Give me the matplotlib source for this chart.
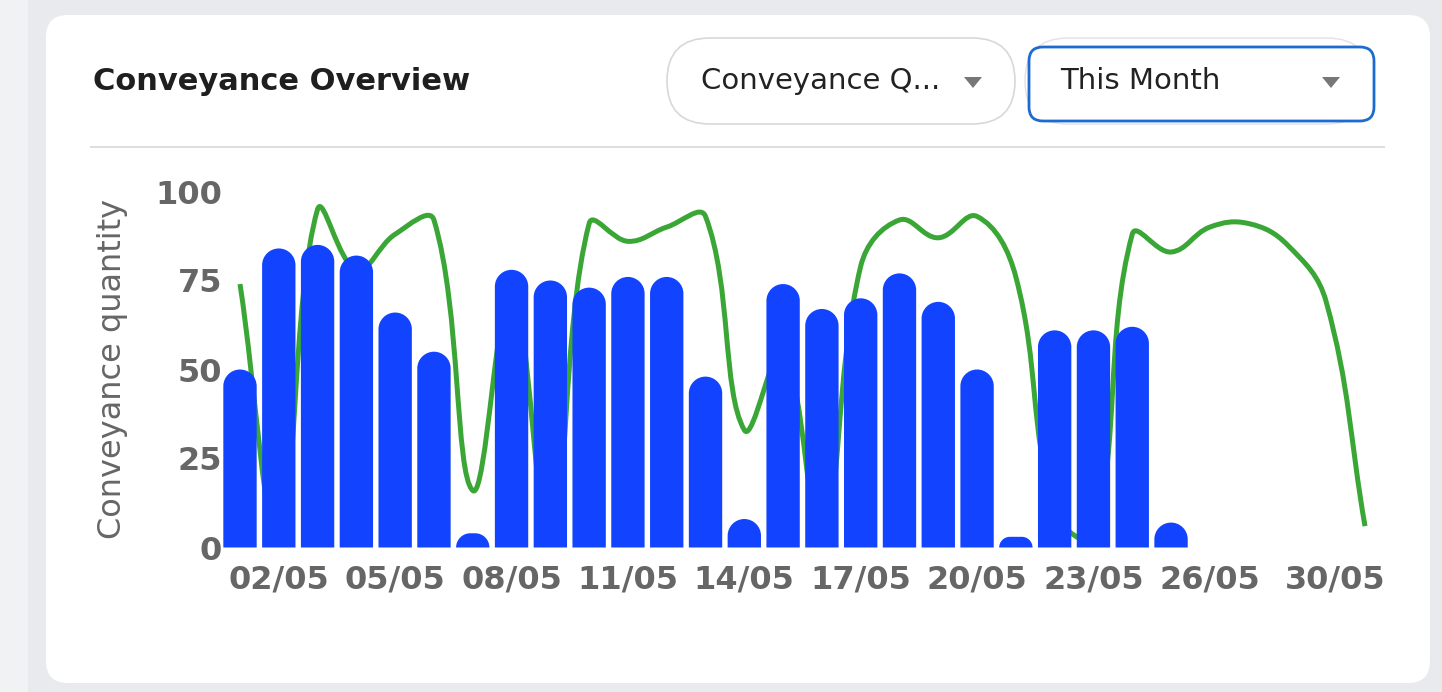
import numpy as np
import matplotlib
matplotlib.use("Agg")
import matplotlib.pyplot as plt
from matplotlib.path import Path
from matplotlib.patches import PathPatch, FancyBboxPatch, Polygon, Rectangle
import matplotlib.transforms as mtransforms

# ---------------- data ----------------
days = list(range(1, 31))
day_labels = [f"{d:02d}/05" for d in days]
shown_ticks = [2, 5, 8, 11, 14, 17, 20, 23, 26, 30]
bar_values = [50, 84, 85, 82, 66, 55, 4, 78, 75, 73, 76, 76, 48, 8, 74, 67, 70, 77, 69, 50,
              3, 61, 61, 62, 7]
line_values = [74, 3, 95, 78, 88, 92, 16, 72, 2, 91, 86, 90, 93, 33, 55, 2, 79, 92, 87, 93,
               76, 10, 2, 88, 83, 90, 91, 85, 69, 6]
y_ticks = [0, 25, 50, 75, 100]
title = "Conveyance Overview"
dropdown1 = "Conveyance Q..."
dropdown2 = "This Month"
y_label = "Conveyance quantity"

# ---------------- styles ----------------
W, H = 1442, 692
BAR_COLOR = "#1244FF"
LINE_COLOR = "#3AA635"
TICK_COLOR = "#666666"
BG = "#E9EAEE"

fig = plt.figure(figsize=(W / 100, H / 100), dpi=100, facecolor=BG)

# background / card layer in pixel coordinates
bg = fig.add_axes([0, 0, 1, 1], zorder=0)
bg.set_xlim(0, W)
bg.set_ylim(H, 0)
bg.axis("off")
bg.add_patch(Rectangle((0, 0), 28, H, facecolor="#F1F2F4", edgecolor="none"))
bg.add_patch(FancyBboxPatch((46, 15), 1384, 668, boxstyle="round,pad=0,rounding_size=22",
                            facecolor="white", edgecolor="none"))
bg.plot([90, 1385], [147, 147], color="#DEDEDE", lw=1.4, solid_capstyle="butt")

bg.text(93, 81, title, fontsize=22, fontweight="bold", color="#1F1F1F", ha="left", va="center")

# dropdown 1 (pill)
bg.add_patch(FancyBboxPatch((667, 38), 348, 86, boxstyle="round,pad=0,rounding_size=43",
                            facecolor="white", edgecolor="#D8D8D8", lw=1.2))
bg.text(701, 81, dropdown1, fontsize=21, color="#222222", ha="left", va="center")
bg.add_patch(Polygon([[964, 77], [982, 77], [973, 88]], closed=True, facecolor="#777777",
                     edgecolor="none"))
# dropdown 2 (focused)
bg.add_patch(FancyBboxPatch((1025, 38), 345, 86, boxstyle="round,pad=0,rounding_size=43",
                            facecolor="white", edgecolor="#E2E2E2", lw=1.0))
bg.add_patch(FancyBboxPatch((1029, 47), 345, 74, boxstyle="round,pad=0,rounding_size=14",
                            facecolor="white", edgecolor="#1E6BCF", lw=2.0))
bg.text(1060, 81, dropdown2, fontsize=21, color="#222222", ha="left", va="center")
bg.add_patch(Polygon([[1322, 77], [1340, 77], [1331, 88]], closed=True, facecolor="#777777",
                     edgecolor="none"))

# ---------------- chart ----------------
x0, x1 = 220.6, 1384.4
y_top, y_bot = 191.5, 547.5
ax = fig.add_axes([x0 / W, 1 - y_bot / H, (x1 - x0) / W, (y_bot - y_top) / H], zorder=2)
ax.patch.set_alpha(0)
ax.set_xlim(0.5, 30.5)
ax.set_ylim(0, 100)
for s in ax.spines.values():
    s.set_visible(False)

ax.set_yticks(y_ticks)
ax.set_yticklabels([str(v) for v in y_ticks])
ax.set_xticks(shown_ticks)
ax.set_xticklabels([day_labels[d - 1] for d in shown_ticks])
ax.tick_params(axis="both", length=0, labelsize=23, labelcolor=TICK_COLOR)
ax.tick_params(axis="y", pad=-1)
ax.tick_params(axis="x", pad=12)
for lab in ax.get_xticklabels() + ax.get_yticklabels():
    lab.set_fontweight("bold")
last = ax.get_xticklabels()[-1]
last.set_horizontalalignment("right")
last.set_transform(last.get_transform() +
                   mtransforms.ScaledTranslation(0.20, 0, fig.dpi_scale_trans))

fig.text(113 / W, 1 - 369 / H, y_label, rotation=90, fontsize=23, color=TICK_COLOR,
         ha="center", va="center")


# --- line: Chart.js-like bezier spline (tension 0.4), drawn behind the bars ---
def spline_path(axis, xs, ys, t=0.4):
    P = axis.transData.transform(np.column_stack([xs, ys]).astype(float))
    n = len(P)
    cp_prev = np.zeros_like(P)
    cp_next = np.zeros_like(P)
    for i in range(n):
        prev = P[i - 1] if i > 0 else P[i]
        cur = P[i]
        nxt = P[i + 1] if i < n - 1 else P[i]
        d01 = np.hypot(*(cur - prev))
        d12 = np.hypot(*(nxt - cur))
        tot = d01 + d12
        s01 = d01 / tot if tot else 0.0
        s12 = d12 / tot if tot else 0.0
        cp_prev[i] = cur - t * s01 * (nxt - prev)
        cp_next[i] = cur + t * s12 * (nxt - prev)
    bb = axis.bbox
    for cp in (cp_prev, cp_next):
        cp[:, 0] = np.clip(cp[:, 0], bb.x0, bb.x1)
        cp[:, 1] = np.clip(cp[:, 1], bb.y0, bb.y1)
    verts = [P[0]]
    codes = [Path.MOVETO]
    for i in range(n - 1):
        verts += [cp_next[i], cp_prev[i + 1], P[i + 1]]
        codes += [Path.CURVE4] * 3
    verts = axis.transData.inverted().transform(np.array(verts))
    return Path(verts, codes)


ax.add_patch(PathPatch(spline_path(ax, days, line_values), facecolor="none",
                       edgecolor=LINE_COLOR, lw=3.6, zorder=1, capstyle="butt",
                       joinstyle="round", clip_on=True))

# --- bars with fully rounded tops ---
bar_width = 0.86
bars = ax.bar(days[:len(bar_values)], bar_values, width=bar_width, color="none",
              edgecolor="none")
to_px = ax.transData
k = 0.5523
for rect in bars:
    bx = rect.get_x()
    bw = rect.get_width()
    bh = rect.get_height()
    (px0, py0), (px1, py1) = to_px.transform([(bx, 0), (bx + bw, bh)])
    r = min((px1 - px0) / 2, py1 - py0)
    sx = (px1 - px0) / bw
    sy = (py1 - py0) / bh if bh else 1
    rx, ry = r / sx, r / sy
    L, R, T = bx, bx + bw, bh
    verts = [(L, 0), (L, T - ry),
             (L, T - ry + k * ry), (L + rx - k * rx, T), (L + rx, T),
             (R - rx, T),
             (R - rx + k * rx, T), (R, T - ry + k * ry), (R, T - ry),
             (R, 0), (L, 0)]
    codes = [Path.MOVETO, Path.LINETO,
             Path.CURVE4, Path.CURVE4, Path.CURVE4,
             Path.LINETO,
             Path.CURVE4, Path.CURVE4, Path.CURVE4,
             Path.LINETO, Path.CLOSEPOLY]
    ax.add_patch(PathPatch(Path(verts, codes), facecolor=BAR_COLOR, edgecolor="none",
                           zorder=2))

fig.savefig("out.png", dpi=100, facecolor=BG)
